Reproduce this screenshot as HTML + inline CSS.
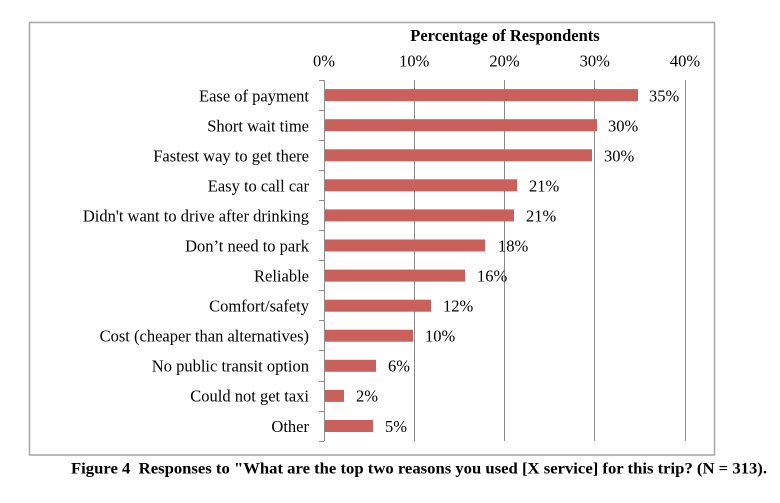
<!DOCTYPE html>
<html>
<head>
<meta charset="utf-8">
<style>
  html,body{margin:0;padding:0;background:#fff;}
  svg{display:block;}
  text{font-family:"Liberation Serif","Times New Roman",serif;fill:#000;}
</style>
</head>
<body>
<svg width="780" height="503" viewBox="0 0 780 503" xmlns="http://www.w3.org/2000/svg">
  <rect x="0" y="0" width="780" height="503" fill="#fff"/>
  <!-- frame -->
  <rect x="29.5" y="22.5" width="685" height="432.5" fill="none" stroke="#a6a6a6" stroke-width="1.5"/>

  <!-- title -->
  <text x="505" y="41" font-size="16.5" font-weight="bold" text-anchor="middle">Percentage of Respondents</text>

  <!-- tick labels -->
  <g font-size="16.5" text-anchor="middle">
    <text x="324" y="66.5">0%</text>
    <text x="414.25" y="66.5">10%</text>
    <text x="504.5" y="66.5">20%</text>
    <text x="594.75" y="66.5">30%</text>
    <text x="685" y="66.5">40%</text>
  </g>

  <!-- gridlines -->
  <g stroke="#8a8a8a" stroke-width="1">
    <line x1="324.5" y1="80" x2="324.5" y2="441"/>
    <line x1="414.5" y1="80" x2="414.5" y2="441"/>
    <line x1="504.5" y1="80" x2="504.5" y2="441"/>
    <line x1="594.5" y1="80" x2="594.5" y2="441"/>
    <line x1="685.5" y1="80" x2="685.5" y2="441"/>
    <!-- left ticks -->
    <line x1="319" y1="80.5" x2="324" y2="80.5"/>
    <line x1="319" y1="110.5" x2="324" y2="110.5"/>
    <line x1="319" y1="140.5" x2="324" y2="140.5"/>
    <line x1="319" y1="170.5" x2="324" y2="170.5"/>
    <line x1="319" y1="200.5" x2="324" y2="200.5"/>
    <line x1="319" y1="230.5" x2="324" y2="230.5"/>
    <line x1="319" y1="260.5" x2="324" y2="260.5"/>
    <line x1="319" y1="290.5" x2="324" y2="290.5"/>
    <line x1="319" y1="320.5" x2="324" y2="320.5"/>
    <line x1="319" y1="350.5" x2="324" y2="350.5"/>
    <line x1="319" y1="381.5" x2="324" y2="381.5"/>
    <line x1="319" y1="411.5" x2="324" y2="411.5"/>
    <line x1="319" y1="441.5" x2="324" y2="441.5"/>
  </g>

  <!-- bars -->
  <g fill="#c9605c">
    <rect x="325" y="89.1" width="313" height="12"/>
    <rect x="325" y="119.2" width="272" height="12"/>
    <rect x="325" y="149.3" width="267" height="12"/>
    <rect x="325" y="179.3" width="192" height="12"/>
    <rect x="325" y="209.4" width="189" height="12"/>
    <rect x="325" y="239.5" width="160" height="12"/>
    <rect x="325" y="269.6" width="140" height="12"/>
    <rect x="325" y="299.7" width="106" height="12"/>
    <rect x="325" y="329.7" width="88" height="12"/>
    <rect x="325" y="359.8" width="51" height="12"/>
    <rect x="325" y="389.9" width="19" height="12"/>
    <rect x="325" y="420" width="48" height="12"/>
  </g>

  <!-- value labels -->
  <g font-size="16.5">
    <text x="649" y="101.5">35%</text>
    <text x="608" y="131.5">30%</text>
    <text x="604" y="161.5">30%</text>
    <text x="529" y="191.5">21%</text>
    <text x="526" y="221.5">21%</text>
    <text x="498" y="251.5">18%</text>
    <text x="477" y="281.5">16%</text>
    <text x="443" y="311.5">12%</text>
    <text x="425" y="341.5">10%</text>
    <text x="388" y="371.5">6%</text>
    <text x="356" y="401.5">2%</text>
    <text x="385" y="432">5%</text>
  </g>

  <!-- category labels -->
  <g font-size="16.5" text-anchor="end">
    <text x="309" y="101.5">Ease of payment</text>
    <text x="309" y="131.5">Short wait time</text>
    <text x="309" y="161.5">Fastest way to get there</text>
    <text x="309" y="191.5">Easy to call car</text>
    <text x="309" y="221.5">Didn't want to drive after drinking</text>
    <text x="309" y="251.5">Don’t need to park</text>
    <text x="309" y="281.5">Reliable</text>
    <text x="309" y="311.5">Comfort/safety</text>
    <text x="309" y="341.5">Cost (cheaper than alternatives)</text>
    <text x="309" y="371.5">No public transit option</text>
    <text x="309" y="401.5">Could not get taxi</text>
    <text x="309" y="432">Other</text>
  </g>

  <!-- caption -->
  <text x="71" y="473.5" font-size="15.5" font-weight="bold" textLength="696" lengthAdjust="spacingAndGlyphs" xml:space="preserve">Figure 4  Responses to "What are the top two reasons you used [X service] for this trip? (N = 313).</text>
</svg>
</body>
</html>
